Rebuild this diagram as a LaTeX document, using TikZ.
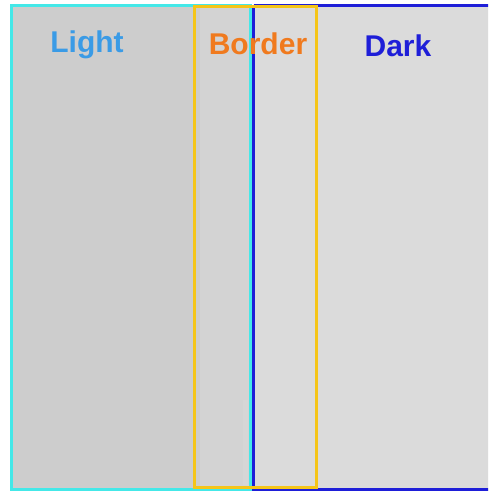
\documentclass[tikz,border=0pt]{standalone}
\usepackage{fontspec}
\setmainfont{Liberation Sans}
\usepackage{tikz}
\usepackage{xcolor}
\definecolor{lightgray1}{HTML}{CDCDCD}
\definecolor{lightgray2}{HTML}{DBDBDB}
\definecolor{lightcyan}{HTML}{44E8E8}
\definecolor{darkblue}{HTML}{1E1ED8}
\definecolor{bordergold}{HTML}{F5C518}
\definecolor{lightlabel}{HTML}{3A9BE6}
\definecolor{borderlabel}{HTML}{F07A1E}

\tikzset{
    regionlabel/.style={anchor=base,font=\fontsize{15}{18}\selectfont\bfseries,inner sep=0pt}
}

\begin{document}
\begin{tikzpicture}[x=0.5pt,y=-0.5pt]
    \useasboundingbox (0,0) rectangle (488,491);
    \clip (0,0) rectangle (488,491);
    \fill[lightgray1] (11,5) rectangle (252,495);
    \fill[lightgray2] (252,5) rectangle (495,495);
    \fill[lightgray1!60!lightgray2] (200,5) rectangle (252,495);
    \fill[gray!30,opacity=0.5] (243,400) rectangle (248,485);
    \draw[line width=1.3pt,darkblue] (253.5,5.5)--(495,5.5);
    \draw[line width=1.3pt,darkblue] (253.5,5.5)--(253.5,489.5)--(495,489.5);
    \draw[line width=1.3pt,lightcyan] (11.5,5.5) rectangle (250.5,489.5);
    \draw[line width=1.4pt,bordergold] (194.5,6.5) rectangle (316.5,487.5);
    \node[regionlabel,lightlabel] (light) at (87,53) {Light};
    \node[regionlabel,borderlabel] (border) at (258,55) {Border};
    \node[regionlabel,darkblue] (dark) at (398,57) {Dark};
\end{tikzpicture}
\end{document}
